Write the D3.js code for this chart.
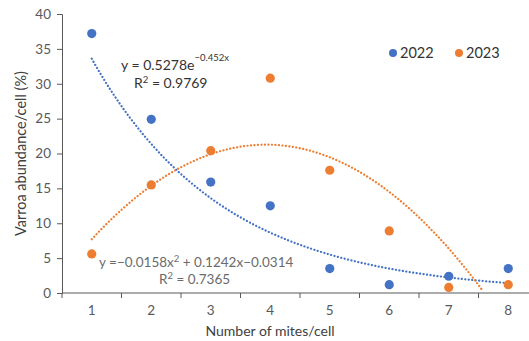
<!DOCTYPE html>
<html><head><meta charset="utf-8">
<script src="https://cdn.jsdelivr.net/npm/d3@7"></script>
<style>html,body{margin:0;padding:0;background:#fff;}svg{display:block;font-family:Lato,"Open Sans",sans-serif;}</style>
</head><body>
<script>
const categories = [1, 2, 3, 4, 5, 6, 7, 8];
const values2022 = [37.2, 24.9, 15.9, 12.5, 3.5, 1.2, 2.4, 3.5];
const values2023 = [5.6, 15.5, 20.4, 30.8, 17.6, 8.9, 0.8, 1.2];
const yTicks = [0, 5, 10, 15, 20, 25, 30, 35, 40];
const seriesNames = ["2022", "2023"];
const expCoef = [0.5278, -0.452];            // y = a e^(b x), fraction
const polyCoef = [-0.0158, 0.1242, -0.0314]; // y = a x^2 + b x + c, fraction
const eq1 = "y = 0.5278e", eq1sup = "\u22120.452x", r2a = "0.9769";
const eq2 = "y =\u22120.0158x", eq2b = " + 0.1242x\u22120.0314", r2b = "0.7365";

(function () {
const W = 529, H = 341;
const blue = "#4472C4", orange = "#ED7D31";
const svg = d3.select("body").append("svg").attr("width", W).attr("height", H);

const mLeft = 62, mRight = 538, mTop = 14, mBottom = 293;
const x = d3.scaleBand().domain(categories).range([mLeft, mRight]);
const xc = d => x(d) + x.bandwidth() / 2;
const xl = d3.scaleLinear().domain([1, 8]).range([xc(1), xc(8)]);
const y = d3.scaleLinear().domain([0, 40]).range([mBottom, mTop]);

// y axis
const ya = svg.append("g").attr("transform", `translate(${mLeft},0)`)
  .call(d3.axisLeft(y).tickValues(yTicks).tickSize(5).tickPadding(6));
ya.select(".domain").attr("stroke", "#595959");
ya.selectAll(".tick line").attr("stroke", "#595959");
ya.selectAll("text").attr("fill", "#595959").style("font-size", "13.5px").style("font-family", "Lato,sans-serif");

// x axis with ticks between categories
const xa = svg.append("g").attr("transform", `translate(0,${mBottom})`);
xa.append("line").attr("x1", mLeft).attr("x2", mRight).attr("stroke", "#595959");
const bounds = categories.map(c => x(c)).concat([x(8) + x.bandwidth()]);
xa.selectAll("line.tk").data(bounds).join("line").attr("class", "tk")
  .attr("x1", d => d).attr("x2", d => d).attr("y1", 0).attr("y2", 5).attr("stroke", "#595959");
xa.selectAll("text").data(categories).join("text")
  .attr("x", d => xc(d)).attr("y", 22).attr("text-anchor", "middle")
  .attr("fill", "#595959").style("font-size", "13.5px").text(d => d);

// axis titles
svg.append("text").attr("x", 270).attr("y", 336).attr("text-anchor", "middle")
  .attr("fill", "#404040").style("font-size", "14px").text("Number of mites/cell");
svg.append("text").attr("transform", `translate(26,${(mTop + mBottom) / 2}) rotate(-90)`)
  .attr("text-anchor", "middle").attr("fill", "#404040").style("font-size", "14.5px")
  .text("Varroa abundance/cell (%)");

// trendlines
const xs = d3.range(1, 8.0001, 0.02);
const line = d3.line().x(d => xl(d[0])).y(d => y(d[1]));
const expPts = xs.map(v => [v, 100 * expCoef[0] * Math.exp(expCoef[1] * v)]);
const polyPts = xs.map(v => [v, 100 * (polyCoef[0] * v * v + polyCoef[1] * v + polyCoef[2])]).filter(d => d[1] >= 0);
svg.append("path").attr("d", line(expPts)).attr("fill", "none").attr("stroke", blue)
  .attr("stroke-width", 2.2).attr("stroke-dasharray", "0.1,3.4").attr("stroke-linecap", "round");
svg.append("path").attr("d", line(polyPts)).attr("fill", "none").attr("stroke", orange)
  .attr("stroke-width", 2.2).attr("stroke-dasharray", "0.1,3.4").attr("stroke-linecap", "round");

// points
svg.selectAll("circle.s22").data(values2022).join("circle").attr("class", "s22")
  .attr("cx", (d, i) => xc(categories[i])).attr("cy", d => y(d)).attr("r", 4.6).attr("fill", blue);
svg.selectAll("circle.s23").data(values2023).join("circle").attr("class", "s23")
  .attr("cx", (d, i) => xc(categories[i])).attr("cy", d => y(d)).attr("r", 4.6).attr("fill", orange);

// equations
const t1 = svg.append("text").attr("x", 121).attr("y", 70).attr("fill", "#333").style("font-size", "14px");
t1.append("tspan").text(eq1);
t1.append("tspan").attr("dy", -9).style("font-size", "9.5px").text(eq1sup);
const t1b = svg.append("text").attr("x", 134).attr("y", 88).attr("fill", "#333").style("font-size", "14px");
t1b.append("tspan").text("R");
t1b.append("tspan").attr("dy", -5).style("font-size", "9.5px").text("2");
t1b.append("tspan").attr("dy", 5).text(" = " + r2a);

const t2 = svg.append("text").attr("x", 99).attr("y", 267).attr("fill", "#6b6b6b").style("font-size", "13.5px");
t2.append("tspan").text(eq2);
t2.append("tspan").attr("dy", -5).style("font-size", "9.5px").text("2");
t2.append("tspan").attr("dy", 5).text(eq2b);
const t2b = svg.append("text").attr("x", 159).attr("y", 284).attr("fill", "#6b6b6b").style("font-size", "13.5px");
t2b.append("tspan").text("R");
t2b.append("tspan").attr("dy", -5).style("font-size", "9.5px").text("2");
t2b.append("tspan").attr("dy", 5).text(" = " + r2b);

// legend
const legX = [393, 459];
seriesNames.forEach((n, i) => {
  svg.append("circle").attr("cx", legX[i]).attr("cy", 53).attr("r", 4).attr("fill", i ? orange : blue);
  svg.append("text").attr("x", legX[i] + 7).attr("y", 58).attr("fill", "#333").style("font-size", "14.5px").text(n);
});
})();
</script>
</body></html>
